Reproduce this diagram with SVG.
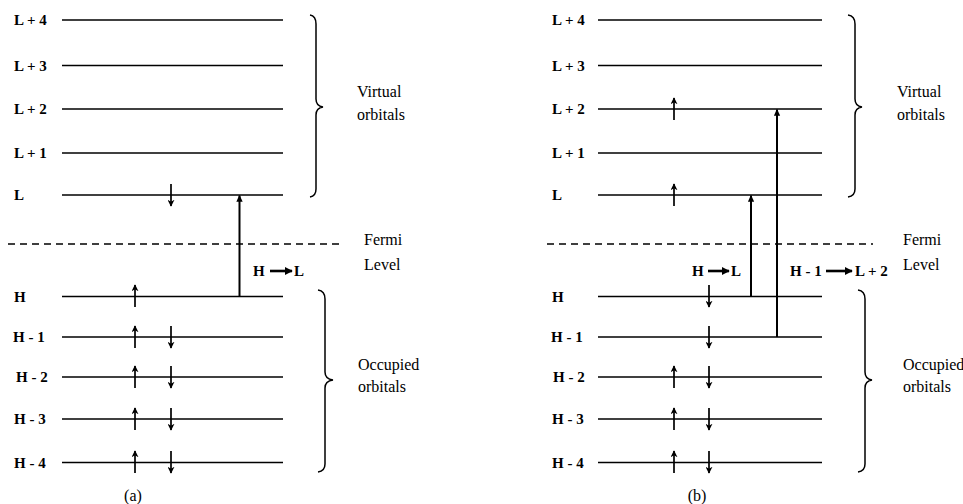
<svg xmlns="http://www.w3.org/2000/svg" width="963" height="504" viewBox="0 0 963 504">
<defs>
<marker id="spin" viewBox="0 0 10 10" refX="9" refY="5" markerWidth="7" markerHeight="7" markerUnits="userSpaceOnUse" orient="auto">
<path d="M0,0 L10,5 L0,10 L3,5 Z" fill="#000"/>
</marker>
<marker id="tr" viewBox="0 0 10 10" refX="9" refY="5" markerWidth="7" markerHeight="7" markerUnits="userSpaceOnUse" orient="auto">
<path d="M0,0.5 L10,5 L0,9.5 Z" fill="#000"/>
</marker>
<marker id="lab" viewBox="0 0 10 10" refX="9" refY="5" markerWidth="8" markerHeight="8" markerUnits="userSpaceOnUse" orient="auto">
<path d="M0,0 L10,5 L0,10 Z" fill="#000"/>
</marker>
</defs>
<style>
.lvl{stroke:#000;stroke-width:1.6;fill:none}
.lbl{font-family:"Liberation Serif",serif;font-weight:bold;font-size:15px;fill:#000}
.txt{font-family:"Liberation Serif",serif;font-size:16px;fill:#000}
.spin{stroke:#000;stroke-width:1.7;marker-end:url(#spin)}
.trans{stroke:#000;stroke-width:2;marker-end:url(#tr)}
.la{stroke:#000;stroke-width:2.6;marker-end:url(#lab)}
.brace{stroke:#000;stroke-width:1.5;fill:none}
.dash{stroke:#000;stroke-width:1.3;stroke-dasharray:7,5}
</style>
<rect width="963" height="504" fill="#fff"/>

<!-- Panel (a) -->
<g id="a-L4"><line class="lvl" x1="62" y1="20" x2="283" y2="20"/><text class="lbl" x="14" y="25">L + 4</text></g>
<g id="a-L3"><line class="lvl" x1="62" y1="65.5" x2="283" y2="65.5"/><text class="lbl" x="14" y="70.5">L + 3</text></g>
<g id="a-L2"><line class="lvl" x1="62" y1="109" x2="283" y2="109"/><text class="lbl" x="14" y="114">L + 2</text></g>
<g id="a-L1"><line class="lvl" x1="62" y1="153" x2="283" y2="153"/><text class="lbl" x="14" y="158">L + 1</text></g>
<g id="a-L"><line class="lvl" x1="62" y1="195" x2="283" y2="195"/><text class="lbl" x="14" y="200">L</text>
<line class="spin" x1="171" y1="184" x2="171" y2="206"/></g>
<g id="a-H"><line class="lvl" x1="62" y1="296.5" x2="283" y2="296.5"/><text class="lbl" x="14" y="301.5">H</text>
<line class="spin" x1="135" y1="307" x2="135" y2="285"/></g>
<g id="a-H1"><line class="lvl" x1="62" y1="337" x2="283" y2="337"/><text class="lbl" x="13" y="342">H - 1</text>
<line class="spin" x1="135" y1="348" x2="135" y2="326"/><line class="spin" x1="171" y1="326" x2="171" y2="348"/></g>
<g id="a-H2"><line class="lvl" x1="62" y1="377" x2="283" y2="377"/><text class="lbl" x="16" y="382">H - 2</text>
<line class="spin" x1="135" y1="388" x2="135" y2="366"/><line class="spin" x1="171" y1="366" x2="171" y2="388"/></g>
<g id="a-H3"><line class="lvl" x1="62" y1="419" x2="283" y2="419"/><text class="lbl" x="14" y="424">H - 3</text>
<line class="spin" x1="135" y1="430" x2="135" y2="408"/><line class="spin" x1="171" y1="408" x2="171" y2="430"/></g>
<g id="a-H4"><line class="lvl" x1="62" y1="462.5" x2="283" y2="462.5"/><text class="lbl" x="14" y="467.5">H - 4</text>
<line class="spin" x1="135" y1="473" x2="135" y2="451"/><line class="spin" x1="171" y1="451" x2="171" y2="473"/></g>
<g id="a-fermi"><line class="dash" x1="8" y1="244" x2="340" y2="244"/>
<text class="txt" x="364" y="245">Fermi</text><text class="txt" x="364" y="270">Level</text></g>
<g id="a-virtual"><path class="brace" d="M310,15 Q316,16 316,24 L316,99 Q316,106 323,107 Q316,108 316,115 L316,189 Q316,196 310,197"/>
<text class="txt" x="357" y="97">Virtual</text><text class="txt" x="357" y="120">orbitals</text></g>
<g id="a-occupied"><path class="brace" d="M318,290 Q325,291 325,299 L325,372 Q325,379 333,380 Q325,381 325,388 L325,464 Q325,471 318,472"/>
<text class="txt" x="358" y="370">Occupied</text><text class="txt" x="358" y="392">orbitals</text></g>
<g id="a-caption"><text class="txt" x="133" y="501" text-anchor="middle">(a)</text></g>

<!-- Panel (b) -->
<g id="b-L4"><line class="lvl" x1="598" y1="20" x2="822" y2="20"/><text class="lbl" x="552" y="25">L + 4</text></g>
<g id="b-L3"><line class="lvl" x1="598" y1="65.5" x2="822" y2="65.5"/><text class="lbl" x="552" y="70.5">L + 3</text></g>
<g id="b-L2"><line class="lvl" x1="598" y1="109" x2="822" y2="109"/><text class="lbl" x="552" y="114">L + 2</text>
<line class="spin" x1="674" y1="120" x2="674" y2="98"/></g>
<g id="b-L1"><line class="lvl" x1="598" y1="153" x2="822" y2="153"/><text class="lbl" x="552" y="158">L + 1</text></g>
<g id="b-L"><line class="lvl" x1="598" y1="195" x2="822" y2="195"/><text class="lbl" x="552" y="200">L</text>
<line class="spin" x1="674" y1="206" x2="674" y2="184"/></g>
<g id="b-H"><line class="lvl" x1="598" y1="296.5" x2="822" y2="296.5"/><text class="lbl" x="552" y="301.5">H</text>
<line class="spin" x1="709" y1="285" x2="709" y2="307"/></g>
<g id="b-H1"><line class="lvl" x1="598" y1="337" x2="822" y2="337"/><text class="lbl" x="551" y="342">H - 1</text>
<line class="spin" x1="709" y1="326" x2="709" y2="348"/></g>
<g id="b-H2"><line class="lvl" x1="598" y1="377" x2="822" y2="377"/><text class="lbl" x="553" y="382">H - 2</text>
<line class="spin" x1="674" y1="388" x2="674" y2="366"/><line class="spin" x1="709" y1="366" x2="709" y2="388"/></g>
<g id="b-H3"><line class="lvl" x1="598" y1="419" x2="822" y2="419"/><text class="lbl" x="552" y="424">H - 3</text>
<line class="spin" x1="674" y1="430" x2="674" y2="408"/><line class="spin" x1="709" y1="408" x2="709" y2="430"/></g>
<g id="b-H4"><line class="lvl" x1="598" y1="462.5" x2="822" y2="462.5"/><text class="lbl" x="552" y="467.5">H - 4</text>
<line class="spin" x1="674" y1="473" x2="674" y2="451"/><line class="spin" x1="709" y1="451" x2="709" y2="473"/></g>
<g id="b-fermi"><line class="dash" x1="547" y1="244" x2="873" y2="244"/>
<text class="txt" x="903" y="245">Fermi</text><text class="txt" x="903" y="270">Level</text></g>
<g id="b-virtual"><path class="brace" d="M848,15 Q855,16 855,24 L855,99 Q855,106 862,107 Q855,108 855,115 L855,189 Q855,196 848,197"/>
<text class="txt" x="897" y="97">Virtual</text><text class="txt" x="897" y="120">orbitals</text></g>
<g id="b-occupied"><path class="brace" d="M858,290 Q865,291 865,299 L865,372 Q865,379 872,380 Q865,381 865,388 L865,464 Q865,471 858,472"/>
<text class="txt" x="903" y="370">Occupied</text><text class="txt" x="903" y="392">orbitals</text></g>
<g id="b-caption"><text class="txt" x="697" y="501" text-anchor="middle">(b)</text></g>

<!-- Connectors (excitations) -->
<g id="connectors">
<line class="trans" x1="239.5" y1="296.5" x2="239.5" y2="195.5"/>
<line class="trans" x1="751" y1="296.5" x2="751" y2="195.5"/>
<line class="trans" x1="777" y1="337" x2="777" y2="109.5"/>
<text class="lbl" x="253" y="276">H</text><line class="la" x1="270" y1="271" x2="292" y2="271"/><text class="lbl" x="294" y="276">L</text>
<text class="lbl" x="692" y="276">H</text><line class="la" x1="708" y1="271" x2="729" y2="271"/><text class="lbl" x="731" y="276">L</text>
<text class="lbl" x="790" y="276">H - 1</text><line class="la" x1="826" y1="271" x2="852" y2="271"/><text class="lbl" x="855" y="276">L + 2</text>
</g>
</svg>
